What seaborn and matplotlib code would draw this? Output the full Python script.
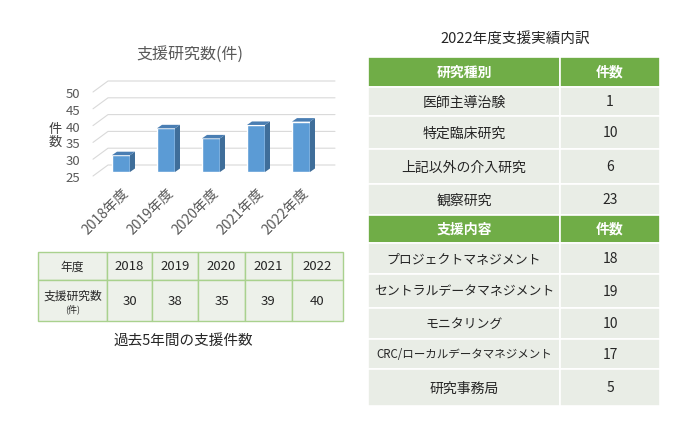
import pandas as pd
import matplotlib.pyplot as plt
import seaborn as sns
from matplotlib.patches import Polygon, Rectangle

# 過去5年間の支援件数
years = ['2018', '2019', '2020', '2021', '2022']
year_labels = [y + '年度' for y in years]
counts = [30, 38, 35, 39, 40]
y_ticks = [25, 30, 35, 40, 45, 50]

# 2022年度支援実績内訳
study_types = ['医師主導治験', '特定臨床研究', '上記以外の介入研究', '観察研究']
study_counts = [1, 10, 6, 23]
support_types = ['プロジェクトマネジメント', 'セントラルデータマネジメント', 'モニタリング',
                 'CRC/ローカルデータマネジメント', '研究事務局']
support_counts = [18, 19, 10, 17, 5]

W, H = 700, 435
sns.set_style('white')
plt.rcParams['font.family'] = ['Noto Sans CJK JP', 'DejaVu Sans']

fig = plt.figure(figsize=(7, 4.35), dpi=100)


def box(x0, y0, x1, y1):
    # pixel box (top-down) -> figure fraction
    return [x0 / W, 1 - y1 / H, (x1 - x0) / W, (y1 - y0) / H]


# overlay for texts / tables, pixel coords
ov = fig.add_axes([0, 0, 1, 1])
ov.set_xlim(0, W)
ov.set_ylim(H, 0)
ov.axis('off')

# ---- pseudo 3D bar chart ----
k = 16.8 / 5          # px per unit
base_px = 173
ax_l, ax_r, ax_t, ax_b = 93, 340, 78, 182
x0_px, step = 121, 45

ax = fig.add_axes(box(ax_l, ax_t, ax_r, ax_b))
df = pd.DataFrame({'year': year_labels, 'count': counts})
sns.barplot(data=df, x='year', y='count', color='#5B9BD5', width=0.4,
            saturation=1, ax=ax, zorder=3)

dx, dy = 5 / step, 3.5 / k
for p in ax.patches:
    top = p.get_height()
    p.set_y(25)
    p.set_height(top - 25)
    xl, w = p.get_x(), p.get_width()
    side = [(xl + w, 25), (xl + w + dx, 25 + dy), (xl + w + dx, top + dy), (xl + w, top)]
    lid = [(xl, top), (xl + dx, top + dy), (xl + w + dx, top + dy), (xl + w, top)]
    ax.add_patch(Polygon(side, closed=True, fc='#3F6E9A', ec='none', zorder=3))
    ax.add_patch(Polygon(lid, closed=True, fc='#4A7EB3', ec='none', zorder=3))

ax.set_xlim((ax_l - x0_px) / step, (ax_r - x0_px) / step)
ax.set_ylim(25 - (ax_b - base_px) / k, 25 + (base_px - ax_t) / k)

fx, bx, rx = (93 - x0_px) / step, (108 - x0_px) / step, (335 - x0_px) / step
for v in y_ticks:
    ax.plot([fx, bx, rx], [v - 4 / k, v + 7 / k, v + 7 / k], color='#D9D9D9',
            lw=0.8, zorder=1, clip_on=False)

ax.set_yticks([v - 4 / k for v in y_ticks], labels=[str(v) for v in y_ticks])
ax.tick_params(axis='y', length=0, pad=9, labelsize=9.5, labelcolor='#595959')
ax.set_xticks(range(len(year_labels)), labels=year_labels, rotation=45,
              ha='right', rotation_mode='anchor')
ax.tick_params(axis='x', length=0, pad=3, labelsize=10, labelcolor='#595959')
ax.set_xlabel('')
ax.set_ylabel('')
ax.set_facecolor('none')
for s in ax.spines.values():
    s.set_visible(False)

ov.text(190, 54, '支援研究数(件)', ha='center', va='center', fontsize=11.5, color='#595959')
ov.text(55, 136, '件\n数', ha='center', va='center', fontsize=9.5, color='#404040',
        linespacing=1.0)

# ---- left table ----
cols = [38, 107, 152, 198, 245, 292, 343]
rows = [253, 281, 322]
for r in range(2):
    for c in range(len(cols) - 1):
        ov.add_patch(Rectangle((cols[c], rows[r]), cols[c + 1] - cols[c], rows[r + 1] - rows[r],
                               fc='#EDF1EA', ec='#A9D18E', lw=1))
cx = [(cols[i] + cols[i + 1]) / 2 for i in range(len(cols) - 1)]
ym1 = (rows[0] + rows[1]) / 2
ym2 = (rows[1] + rows[2]) / 2
ov.text(cx[0], ym1, '年度', ha='center', va='center', fontsize=8.5, color='#262626')
ov.text(cx[0], ym2 - 5, '支援研究数', ha='center', va='center', fontsize=8.5, color='#262626')
ov.text(cx[0], ym2 + 8, '(件)', ha='center', va='center', fontsize=6.5, color='#262626')
for i, (yr, n) in enumerate(zip(years, counts)):
    ov.text(cx[i + 1], ym1, yr, ha='center', va='center', fontsize=9.5, color='#262626')
    ov.text(cx[i + 1], ym2, str(n), ha='center', va='center', fontsize=9.5, color='#262626')

ov.text(183, 341, '過去5年間の支援件数', ha='center', va='center', fontsize=10.5, color='#262626')

# ---- right table ----
ov.text(515, 39, '2022年度支援実績内訳', ha='center', va='center', fontsize=10.5, color='#262626')
xs = [368, 560, 660]
sections = [
    ('研究種別', study_types, study_counts, [58, 88, 117, 150, 185, 216]),
    ('支援内容', support_types, support_counts, [216, 244, 275, 309, 340, 370, 407]),
]


def label_size(s):
    # katakana rows are set narrower in the original
    if any(ch.isascii() and ch.isalpha() for ch in s):
        return 8.3
    if any('ァ' <= ch <= 'ヶ' or ch == 'ー' for ch in s):
        return 9.3
    return 10


for head, labels, vals, edges in sections:
    for j in range(len(edges) - 1):
        y0, y1 = edges[j], edges[j + 1]
        fc = '#70AD47' if j == 0 else '#E9EDE6'
        for c in range(2):
            ov.add_patch(Rectangle((xs[c], y0), xs[c + 1] - xs[c], y1 - y0,
                                   fc=fc, ec='white', lw=1.2))
        ym = (y0 + y1) / 2
        mx = [(xs[0] + xs[1]) / 2, (xs[1] + xs[2]) / 2]
        if j == 0:
            ov.text(mx[0], ym, head, ha='center', va='center', fontsize=10,
                    color='white', fontweight='bold')
            ov.text(mx[1], ym, '件数', ha='center', va='center', fontsize=10,
                    color='white', fontweight='bold')
        else:
            lab = labels[j - 1]
            ov.text(mx[0], ym, lab, ha='center', va='center',
                    fontsize=label_size(lab), color='#262626')
            ov.text(mx[1], ym, str(vals[j - 1]), ha='center', va='center',
                    fontsize=10, color='#262626')

fig.savefig('out.png', dpi=100)
